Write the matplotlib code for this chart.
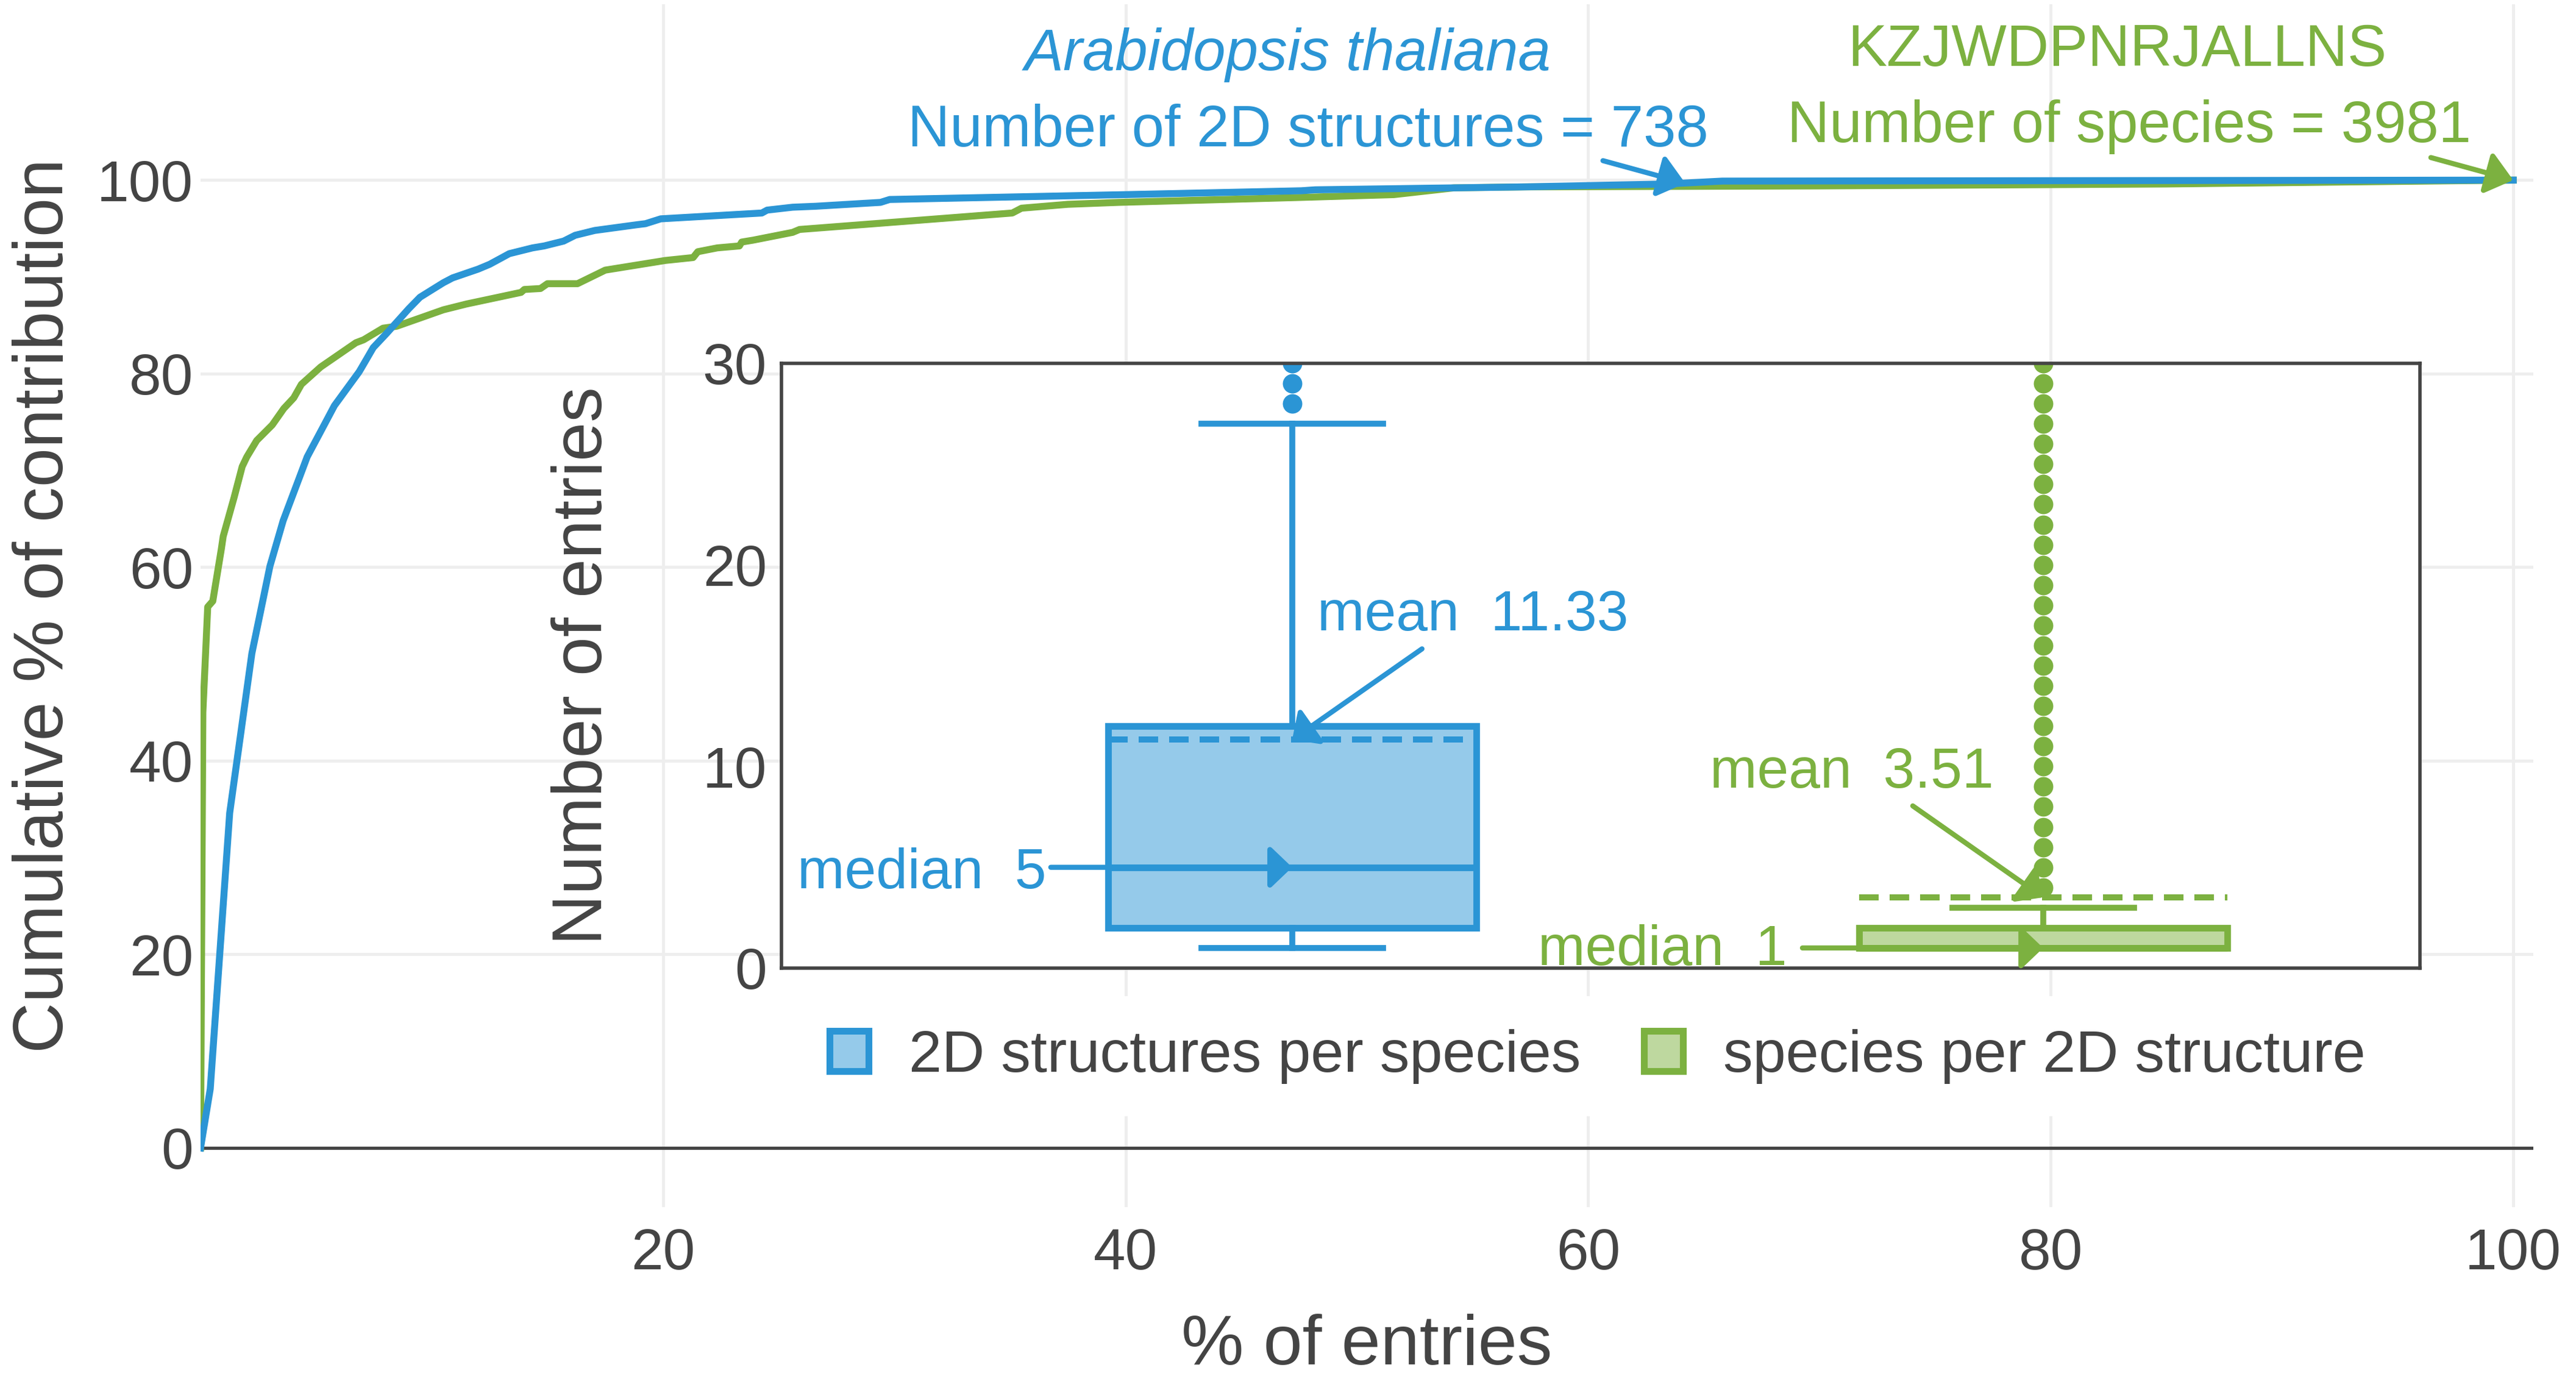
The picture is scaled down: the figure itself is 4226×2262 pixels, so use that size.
import matplotlib
matplotlib.use('Agg')
import matplotlib.pyplot as plt
from matplotlib.patches import Patch

plt.rcParams['font.family'] = ['Liberation Sans', 'DejaVu Sans']

# Cumulative contribution curves (% of entries -> cumulative % of contribution)
species_x = [0, 0.42, 1.26, 2.22, 3.0, 3.57, 4.39, 4.61, 5.79, 6.86, 7.47, 8.06, 9.0, 9.49,
             10.5, 10.9, 12.0, 12.5, 13.35, 14.36, 14.86, 15.7, 16.2, 17.05, 18.9, 19.24, 19.9,
             24.27, 24.5, 25.6, 26.6, 29.4, 29.8, 40.0, 47.6, 48.2, 57.2, 63.4, 65.8, 100]
species_y = [0, 6.1, 34.6, 51.1, 60.1, 64.8, 70.0, 71.4, 76.7, 80.2, 82.7, 84.2, 86.7, 87.9,
             89.4, 89.9, 90.8, 91.3, 92.4, 93.0, 93.2, 93.7, 94.3, 94.8, 95.4, 95.5, 96.0,
             96.6, 96.9, 97.2, 97.3, 97.7, 98.0, 98.5, 98.9, 99.0, 99.3, 99.6, 99.9, 100]

struct_x = [0, 0.1, 0.31, 0.53, 0.9, 0.98, 1.45, 1.8, 2.0, 2.43, 3.1, 3.6, 4.03, 4.36, 5.2,
            6.72, 7.05, 7.47, 7.89, 8.48, 10.5, 11.5, 13.86, 14.0, 14.7, 15.0, 16.3, 16.9, 17.5,
            20.1, 21.3, 21.5, 22.35, 23.3, 23.4, 23.9, 25.6, 25.9, 35.1, 35.5, 37.5, 39.7, 47.4,
            51.6, 54.2, 57.2, 70, 85, 100]
struct_y = [0, 45.0, 55.9, 56.5, 61.9, 63.2, 67.2, 70.4, 71.4, 73.1, 74.7, 76.4, 77.5, 78.9, 80.7,
            83.2, 83.5, 84.1, 84.7, 84.9, 86.6, 87.2, 88.4, 88.7, 88.8, 89.3, 89.3, 90.0, 90.7,
            91.7, 92.0, 92.6, 93.0, 93.2, 93.6, 93.8, 94.6, 94.9, 96.6, 97.1, 97.5, 97.7, 98.2,
            98.5, 99.2, 99.3, 99.4, 99.6, 100]

# Box statistics for the inset (number of entries)
box_labels = ['2D structures per species', 'species per 2D structure']
box_whislo = [1, 1]
box_q1 = [2, 1]
box_med = [5, 1]
box_q3 = [12, 2]
box_whishi = [27, 3]
box_mean = [11.33, 3.51]
box_fliers = [[28, 29, 30],
              [4, 5, 6, 7, 8, 9, 10, 11, 12, 13, 14, 15, 16, 17, 18, 19, 20,
               21, 22, 23, 24, 25, 26, 27, 28, 29, 30]]

top_species = 'Arabidopsis thaliana'
top_species_n = 738
top_struct = 'KZJWDPNRJALLNS'
top_struct_n = 3981

BLUE = '#2B95D5'
GREEN = '#7CB140'
BLUE_FILL = '#95CAEA'
GREEN_FILL = '#BED89F'
DARK = '#444444'
GRID = '#EEEEEE'

fig = plt.figure(figsize=(21.13, 11.31), dpi=200)

# Main axes
ax = fig.add_axes([0.07785, 0.12467, 0.90558, 0.87224])
ax.plot(struct_x, struct_y, color=GREEN, lw=4.1, zorder=3, solid_joinstyle='round')
ax.plot(species_x, species_y, color=BLUE, lw=4.1, zorder=4, solid_joinstyle='round')
ax.axhline(0, color=DARK, lw=1.9, zorder=2)

ax.set_xlim(0, 100.87)
ax.set_ylim(-6.11, 118.17)
ax.set_xticks([20, 40, 60, 80, 100])
ax.set_yticks([0, 20, 40, 60, 80, 100])
ax.grid(True, color=GRID, lw=1.8)
ax.set_axisbelow(True)
for s in ax.spines.values():
    s.set_visible(False)
ax.tick_params(axis='both', length=0, labelsize=34, labelcolor=DARK)
ax.tick_params(axis='x', pad=12)
ax.tick_params(axis='y', pad=4.3)
ax.set_xlabel('% of entries', fontsize=41.5, color=DARK, va='baseline')
ax.xaxis.set_label_coords(0.5, -0.131)
ax.set_ylabel('Cumulative % of contribution', fontsize=41.5, color=DARK, va='center')
ax.yaxis.set_label_coords(-0.067, 0.5)

arrow_main = dict(arrowstyle='-|>,head_length=1.3,head_width=1.05', lw=3,
                  shrinkA=0, shrinkB=0, mutation_scale=10)
# Blue annotation (species with most structures)
head_b = (64.2, 99.68)
ax.annotate('', xy=head_b, xytext=(-135, 37), textcoords='offset pixels',
            arrowprops=dict(arrow_main, color=BLUE), zorder=6)
ax.annotate(top_species, xy=head_b, xytext=(-652, 186), textcoords='offset pixels',
            ha='center', va='baseline', fontsize=34.5, color=BLUE, style='italic')
ax.annotate(f'Number of 2D structures = {top_species_n}', xy=head_b, xytext=(-619, 61),
            textcoords='offset pixels', ha='center', va='baseline', fontsize=34.5, color=BLUE)
# Green annotation (structure found in most species)
head_g = (100, 100)
ax.annotate('', xy=head_g, xytext=(-135, 37), textcoords='offset pixels',
            arrowprops=dict(arrow_main, color=GREEN), zorder=6, annotation_clip=False)
ax.annotate(top_struct, xy=head_g, xytext=(-650, 187), textcoords='offset pixels',
            ha='center', va='baseline', fontsize=34.5, color=GREEN, annotation_clip=False)
ax.annotate(f'Number of species = {top_struct_n}', xy=head_g, xytext=(-630, 62),
            textcoords='offset pixels', ha='center', va='baseline', fontsize=34.5, color=GREEN,
            annotation_clip=False)

# Inset box plot
ins = fig.add_axes([0.30336, 0.29797, 0.63606, 0.43855])
stats = []
for i in range(2):
    stats.append(dict(label=box_labels[i], whislo=box_whislo[i], q1=box_q1[i], med=box_med[i],
                      q3=box_q3[i], whishi=box_whishi[i], mean=box_mean[i], fliers=box_fliers[i]))
colors = [BLUE, GREEN]
fills = [BLUE_FILL, GREEN_FILL]
for i in range(2):
    c = colors[i]
    ins.bxp([stats[i]], positions=[i], widths=0.49, capwidths=[0.242], patch_artist=True,
            showmeans=True, meanline=True, manage_ticks=False,
            boxprops=dict(facecolor=fills[i], edgecolor=c, lw=3.9),
            medianprops=dict(color=c, lw=3.9),
            whiskerprops=dict(color=c, lw=3.5),
            capprops=dict(color=c, lw=3.5),
            meanprops=dict(color=c, lw=3.6, linestyle=(0, (3.2, 1.8))),
            flierprops=dict(marker='o', markersize=11.5, markerfacecolor=c,
                            markeredgewidth=0, linestyle='none'))

ins.set_xlim(-0.68, 1.5016)
ins.set_ylim(0, 30)
ins.set_xticks([])
ins.set_yticks([0, 10, 20, 30])
ins.tick_params(axis='y', length=0, labelsize=34, labelcolor=DARK, pad=8.6)
for s in ins.spines.values():
    s.set_color(DARK)
    s.set_linewidth(2)
ins.set_ylabel('Number of entries', fontsize=41.5, color=DARK, va='center')
ins.yaxis.set_label_coords(-0.1209, 0.5)

arrow_ins = dict(arrowstyle='-|>,head_length=1.1,head_width=1.05', lw=3,
                 shrinkA=0, shrinkB=0, mutation_scale=10)
# mean / median labels
ins_fs = 33.5
ins.annotate('', xy=(0, box_mean[0]), xytext=(213, 149), textcoords='offset pixels',
             arrowprops=dict(arrow_ins, color=BLUE), zorder=6)
ins.annotate(f'mean  {box_mean[0]:.2f}', xy=(0, box_mean[0]), xytext=(41, 179),
             textcoords='offset pixels', ha='left', va='baseline', fontsize=ins_fs, color=BLUE)
ins.annotate('', xy=(0, box_med[0]), xytext=(-396, 0), textcoords='offset pixels',
             arrowprops=dict(arrow_ins, color=BLUE), zorder=6)
ins.annotate(f'median  {box_med[0]}', xy=(0, box_med[0]), xytext=(-403, -34),
             textcoords='offset pixels', ha='right', va='baseline', fontsize=ins_fs, color=BLUE)
ins.annotate('', xy=(1, box_mean[1]), xytext=(-214, 150), textcoords='offset pixels',
             arrowprops=dict(arrow_ins, color=GREEN), zorder=6)
ins.annotate(f'mean  {box_mean[1]:.2f}', xy=(1, box_mean[1]), xytext=(-81, 180),
             textcoords='offset pixels', ha='right', va='baseline', fontsize=ins_fs, color=GREEN)
ins.annotate('', xy=(1, box_med[1]), xytext=(-395, 0), textcoords='offset pixels',
             arrowprops=dict(arrow_ins, color=GREEN), zorder=6)
ins.annotate(f'median  {box_med[1]}', xy=(1, box_med[1]), xytext=(-420, -28),
             textcoords='offset pixels', ha='right', va='baseline', fontsize=ins_fs, color=GREEN)

# Legend
handles = [Patch(facecolor=BLUE_FILL, edgecolor=BLUE, lw=4, label=box_labels[0]),
           Patch(facecolor=GREEN_FILL, edgecolor=GREEN, lw=4, label=box_labels[1])]
leg = ax.legend(handles=handles, loc='center', bbox_to_anchor=(0.6202, 0.2339),
                bbox_transform=fig.transFigure, ncol=2, fontsize=35, frameon=True,
                facecolor='white', edgecolor='none', framealpha=1, fancybox=False,
                handlelength=0.66, handleheight=0.66, handletextpad=0.68,
                columnspacing=1.06, borderpad=0.55)
for t in leg.get_texts():
    t.set_color(DARK)

fig.savefig('out.png', dpi=200, facecolor='white')
